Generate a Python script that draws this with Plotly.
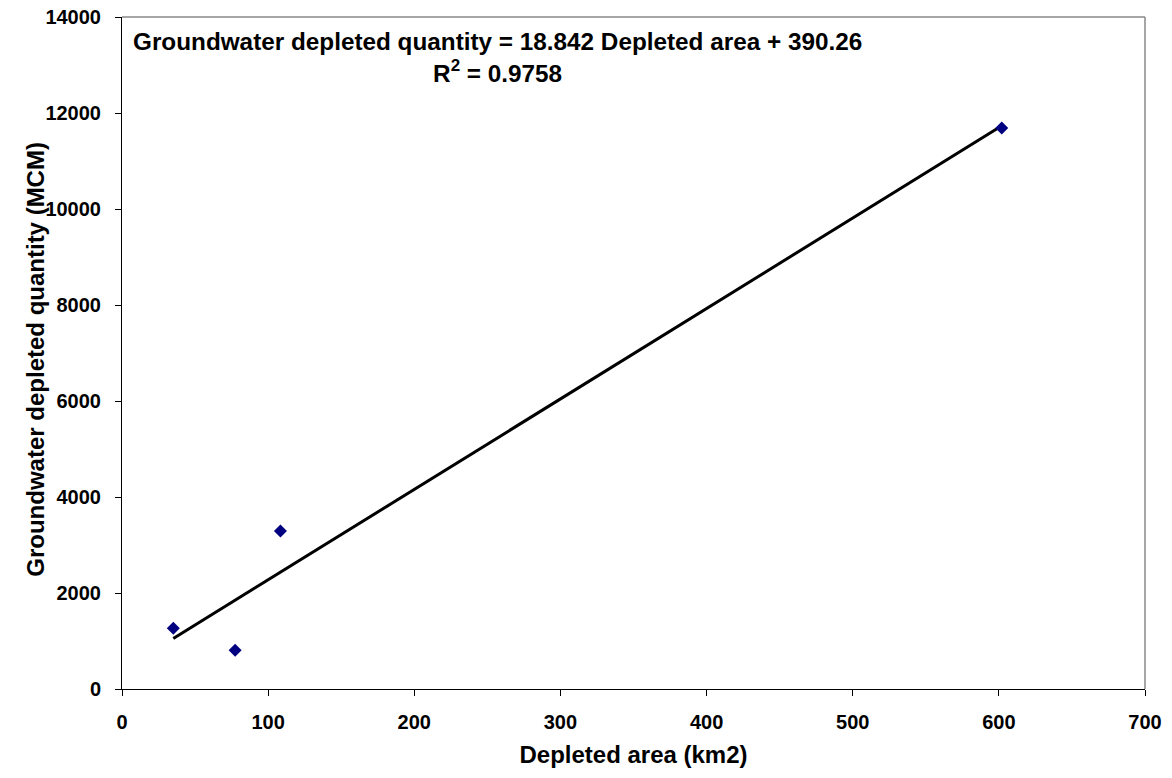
import plotly.graph_objects as go

area = [35.1, 77.4, 108.4, 602.0]
quantity = [1265, 806, 3290, 11690]
slope = 18.842
intercept = 390.26
r_squared = 0.9758
x_ticks = [0, 100, 200, 300, 400, 500, 600, 700]
y_ticks = [0, 2000, 4000, 6000, 8000, 10000, 12000, 14000]

fit_x = [min(area), max(area)]
fit_y = [slope * v + intercept for v in fit_x]

font = "Liberation Sans, Arial, sans-serif"

W, H = 1172, 778
ML, MR, MT, MB = 122, 27, 17, 89
plot_w = W - ML - MR

fig = go.Figure()
fig.add_trace(go.Scatter(x=fit_x, y=fit_y, mode="lines",
                         line=dict(color="black", width=3), showlegend=False))
fig.add_trace(go.Scatter(x=area, y=quantity, mode="markers",
                         marker=dict(symbol="diamond", size=10, color="#000080"),
                         showlegend=False))

fig.update_layout(
    width=W, height=H,
    margin=dict(l=ML, r=MR, t=MT, b=MB),
    plot_bgcolor="white", paper_bgcolor="white",
    font=dict(family=font, color="black"),
    xaxis=dict(range=[0, 700], tickvals=x_ticks, showgrid=False, zeroline=False,
               showline=True, linecolor="black", linewidth=1, automargin=False,
               ticks="outside", ticklen=6, tickcolor="black", ticklabelstandoff=9,
               ticklabeloverflow="allow",
               tickfont=dict(size=20, family=font, weight="bold"),
               title=dict(text="<b>Depleted area (km2)</b>",
                          font=dict(size=24, family=font), standoff=14)),
    yaxis=dict(range=[0, 14000], tickvals=y_ticks, tickformat="d",
               showgrid=False, zeroline=False, automargin=False,
               showline=True, linecolor="black", linewidth=1,
               ticks="outside", ticklen=6, tickcolor="black", ticklabelstandoff=10,
               ticklabeloverflow="allow",
               tickfont=dict(size=20, family=font, weight="bold")),
    shapes=[
        dict(type="line", xref="paper", yref="paper", x0=0, x1=1, y0=1, y1=1,
             line=dict(color="#888888", width=1.5)),
        dict(type="line", xref="paper", yref="paper", x0=1, x1=1, y0=0, y1=1,
             line=dict(color="#888888", width=1.5)),
    ],
)

fig.add_annotation(
    x=256.8, y=13160, xref="x", yref="y",
    xanchor="center", yanchor="middle", align="center", showarrow=False,
    text=(f"<b>Groundwater depleted quantity = {slope} Depleted area + {intercept}</b>"
          f"<br><b>R<sup>2</sup> = {r_squared}</b>"),
    font=dict(size=24.3, family=font),
)

fig.add_annotation(
    x=(36 - ML) / plot_w, y=0.49, xref="paper", yref="paper",
    xanchor="center", yanchor="middle", textangle=-90, showarrow=False,
    text="<b>Groundwater depleted quantity (MCM)</b>",
    font=dict(size=24, family=font),
)

fig.write_html("out.html", config={"displayModeBar": False},
               post_script="document.body.style.margin='0px';document.body.style.padding='0px';")
